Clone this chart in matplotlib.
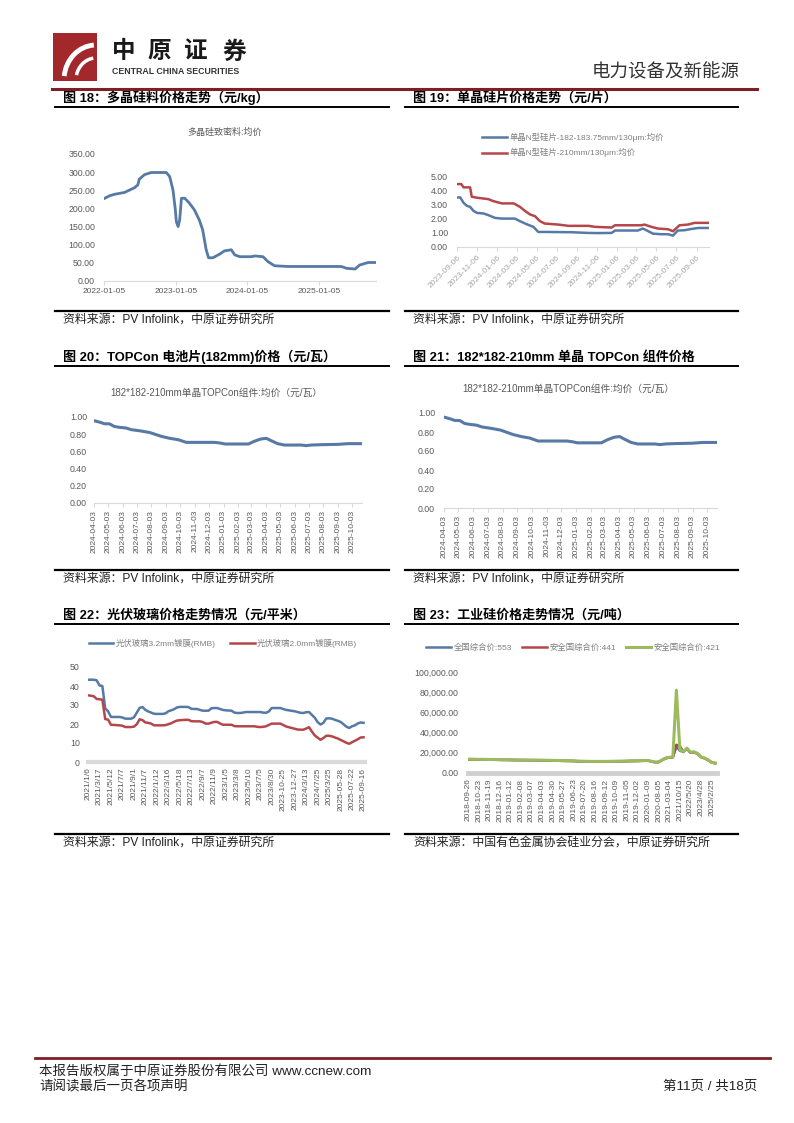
import numpy as np
import pandas as pd
import matplotlib
matplotlib.use("Agg")
import matplotlib.pyplot as plt
from matplotlib.lines import Line2D
from matplotlib.patches import Rectangle, Arc
from matplotlib.ticker import FuncFormatter

plt.rcParams['font.family'] = ['Liberation Sans', 'Noto Sans CJK SC', 'DejaVu Sans']

# ---- data ----
# fig 18: polysilicon dense material avg price (yuan/kg)
poly_dates = ['2022-01-05', '2022-02-03', '2022-02-28', '2022-04-19', '2022-06-09', '2022-06-26',
              '2022-07-04', '2022-07-30', '2022-09-02', '2022-11-18', '2022-12-05', '2022-12-22',
              '2023-01-03', '2023-01-08', '2023-01-17', '2023-01-25', '2023-02-03', '2023-02-20',
              '2023-03-15', '2023-04-10', '2023-05-05', '2023-05-22', '2023-06-09', '2023-06-21',
              '2023-07-13', '2023-08-16', '2023-09-10', '2023-10-15', '2023-11-01', '2023-11-27',
              '2024-01-25', '2024-02-12', '2024-03-24', '2024-04-19', '2024-05-22', '2024-07-29',
              '2025-01-16', '2025-04-26', '2025-05-23', '2025-07-05', '2025-07-29', '2025-08-16',
              '2025-09-11', '2025-10-20']
poly_price = [227, 235, 239, 244, 257, 265, 281, 293, 299, 299,
              288, 251, 196, 164, 150, 168, 228, 228, 215, 196,
              168, 141, 86, 64, 64, 74, 83, 86, 72, 67,
              67, 69, 67, 53, 42, 40, 40, 40, 35, 33,
              44, 47, 51, 51]
poly_ticks = ['2022-01-05', '2023-01-05', '2024-01-05', '2025-01-05']

# fig 19: N-type wafer prices (yuan/pc)
w182_dates = ['2023-09-06', '2023-09-16', '2023-09-26', '2023-10-06', '2023-10-16', '2023-10-26',
              '2023-11-06', '2023-11-26', '2023-12-11', '2023-12-31', '2024-01-21', '2024-03-01',
              '2024-03-16', '2024-04-06', '2024-04-26', '2024-05-11', '2024-05-31', '2024-08-21',
              '2024-10-11', '2024-11-06', '2024-12-21', '2024-12-31', '2025-03-11', '2025-03-26',
              '2025-04-06', '2025-04-26', '2025-05-21', '2025-06-11', '2025-06-26', '2025-07-11',
              '2025-07-31', '2025-08-21', '2025-09-11', '2025-10-14']
w182_price = [3.49, 3.49, 3.11, 2.90, 2.83, 2.55, 2.40, 2.36, 2.24, 2.05,
              2.00, 2.00, 1.82, 1.60, 1.42, 1.06, 1.06, 1.04, 0.99, 0.98,
              0.99, 1.16, 1.16, 1.30, 1.18, 0.94, 0.90, 0.90, 0.80, 1.16,
              1.18, 1.27, 1.34, 1.34]
w210_dates = ['2023-09-06', '2023-09-19', '2023-09-26', '2023-10-16', '2023-10-21', '2023-11-06',
              '2023-12-11', '2023-12-26', '2024-01-21', '2024-02-26', '2024-03-16', '2024-03-31',
              '2024-04-16', '2024-05-01', '2024-05-16', '2024-05-31', '2024-07-11', '2024-08-11',
              '2024-10-11', '2024-10-31', '2024-12-21', '2024-12-31', '2025-03-21', '2025-03-31',
              '2025-04-21', '2025-05-11', '2025-06-11', '2025-06-26', '2025-07-16', '2025-08-11',
              '2025-08-31', '2025-10-14']
w210_price = [4.43, 4.43, 4.20, 4.20, 3.54, 3.47, 3.37, 3.23, 3.07, 3.07,
              2.83, 2.55, 2.29, 2.17, 1.82, 1.65, 1.58, 1.49, 1.49, 1.42,
              1.37, 1.53, 1.53, 1.58, 1.42, 1.30, 1.25, 1.11, 1.53, 1.58,
              1.70, 1.70]
wafer_ticks = ['2023-09-06', '2023-11-06', '2024-01-06', '2024-03-06', '2024-05-06', '2024-07-06',
               '2024-09-06', '2024-11-06', '2025-01-06', '2025-03-06', '2025-05-06', '2025-07-06',
               '2025-09-06']
wafer_labels = ['单晶N型硅片-182-183.75mm/130μm:均价', '单晶N型硅片-210mm/130μm:均价']

# fig 20 / 21: TOPCon module avg price (yuan/W)
topcon_dates = ['2024-04-03', '2024-04-15', '2024-04-25', '2024-05-06', '2024-05-16', '2024-05-27',
                '2024-06-10', '2024-06-21', '2024-07-12', '2024-07-30', '2024-08-10', '2024-08-24',
                '2024-09-11', '2024-09-29', '2024-10-16', '2024-11-03', '2024-12-15', '2024-12-26',
                '2025-01-06', '2025-02-25', '2025-03-09', '2025-03-23', '2025-04-04', '2025-04-14',
                '2025-04-28', '2025-05-12', '2025-06-17', '2025-06-27', '2025-07-08', '2025-07-29',
                '2025-09-03', '2025-09-24', '2025-10-24']
topcon_price = [0.957, 0.940, 0.922, 0.920, 0.890, 0.880, 0.872, 0.853, 0.837, 0.820,
                0.800, 0.775, 0.752, 0.736, 0.705, 0.705, 0.705, 0.698, 0.686, 0.686,
                0.717, 0.744, 0.752, 0.725, 0.690, 0.674, 0.674, 0.667, 0.674, 0.678,
                0.682, 0.690, 0.690]
topcon_ticks = ['2024-04-03', '2024-05-03', '2024-06-03', '2024-07-03', '2024-08-03', '2024-09-03',
                '2024-10-03', '2024-11-03', '2024-12-03', '2025-01-03', '2025-02-03', '2025-03-03',
                '2025-04-03', '2025-05-03', '2025-06-03', '2025-07-03', '2025-08-03', '2025-09-03',
                '2025-10-03']

# fig 22: PV glass price (yuan/m2), weekly categories
glass32 = [43.3, 43.3, 43.3, 43.0, 40.3, 40.0, 28.2, 26.7, 23.7, 23.7,
           23.7, 23.7, 23.4, 22.8, 22.8, 22.8, 23.5, 26.0, 28.5, 28.9,
           27.4, 26.6, 26.0, 25.4, 25.3, 25.3, 25.3, 25.6, 26.7, 27.2,
           27.8, 28.7, 29.0, 29.0, 29.0, 28.9, 28.0, 27.9, 27.9, 27.4,
           27.0, 27.0, 27.0, 28.3, 28.4, 28.4, 27.9, 27.4, 27.2, 27.1,
           27.0, 26.0, 25.8, 25.8, 26.0, 26.3, 26.3, 26.3, 26.3, 26.3,
           26.3, 26.0, 25.9, 26.6, 28.4, 28.4, 28.4, 28.4, 27.9, 27.4,
           27.2, 26.9, 26.7, 26.3, 25.9, 25.8, 26.2, 26.3, 24.8, 23.3,
           21.0, 19.7, 20.6, 22.9, 23.0, 22.8, 22.2, 21.7, 21.1, 19.9,
           18.6, 17.9, 18.8, 19.3, 20.3, 20.8, 20.6]
glass20 = [35.1, 34.9, 34.6, 33.2, 33.0, 32.8, 22.6, 22.3, 19.6, 19.5,
           19.4, 19.3, 19.1, 18.4, 18.4, 18.4, 18.6, 19.9, 22.5, 22.0,
           20.8, 20.6, 20.2, 19.3, 19.3, 19.3, 19.3, 19.4, 19.9, 20.4,
           21.2, 21.8, 22.0, 22.1, 22.2, 22.2, 21.5, 21.4, 21.4, 21.4,
           21.0, 20.2, 20.2, 20.7, 21.1, 21.1, 20.3, 19.6, 19.6, 19.6,
           19.6, 18.9, 18.8, 18.8, 18.8, 18.8, 18.8, 18.8, 18.8, 18.5,
           18.4, 18.5, 18.8, 19.5, 20.2, 20.2, 20.2, 20.2, 19.5, 18.7,
           18.3, 17.9, 17.5, 17.1, 17.0, 17.0, 17.6, 18.3, 16.0, 14.0,
           12.8, 11.7, 12.6, 13.8, 13.8, 13.5, 12.9, 12.4, 11.6, 10.9,
           10.1, 9.6, 10.4, 11.2, 12.0, 12.9, 13.0]
glass_ticks = ['2021/1/6', '2021/3/17', '2021/5/12', '2021/7/7', '2021/9/1', '2021/11/7',
               '2022/1/12', '2022/3/16', '2022/5/18', '2022/7/13', '2022/9/7', '2022/11/9',
               '2023/1/5', '2023/3/8', '2023/5/10', '2023/7/5', '2023/8/30', '2023-10-25',
               '2023-12-27', '2024/3/13', '2024/7/25', '2025/3/25', '2025-05-28', '2025-07-22',
               '2025-09-16']
glass_labels = ['光伏玻璃3.2mm镀膜(RMB)', '光伏玻璃2.0mm镀膜(RMB)']

# fig 23: industrial silicon (yuan/t)
si553 = [13600, 13550, 13500, 13450, 13400, 13350, 13300, 13250, 13200, 13100,
         13050, 13000, 12950, 12900, 12850, 12800, 12800, 12750, 12700, 12700,
         12650, 12600, 12500, 12450, 12400, 12350, 12200, 12100, 12050, 12000,
         11900, 11700, 11600, 11500, 11400, 11400, 11400, 11400, 11450, 11450,
         11500, 11550, 11600, 11650, 11700, 11800, 11900, 11950, 12000, 12100,
         12200, 12300, 11400, 10700, 10900, 12900, 14700, 15400, 15600, 26000,
         22000, 21000, 24300, 20200, 20800, 19100, 15800, 14600, 12800, 10400,
         9800]
si441 = [13500, 13450, 13400, 13350, 13300, 13250, 13200, 13150, 13100, 13000,
         12950, 12900, 12850, 12800, 12750, 12700, 12700, 12650, 12600, 12600,
         12550, 12500, 12400, 12350, 12300, 12250, 12100, 12000, 11950, 11900,
         11800, 11600, 11500, 11400, 11300, 11300, 11300, 11300, 11350, 11350,
         11400, 11450, 11500, 11550, 11600, 11700, 11800, 11850, 11900, 12000,
         12100, 12200, 11300, 10600, 10800, 12800, 14600, 15300, 15500, 28000,
         26500, 20800, 24000, 20000, 20600, 18900, 15700, 14500, 12700, 10300,
         9700]
si421 = [13770, 13700, 13600, 13550, 13500, 13450, 13400, 13350, 13300, 13200,
         13100, 13100, 13000, 13000, 12950, 12900, 12900, 12850, 12800, 12800,
         12790, 12700, 12600, 12550, 12500, 12450, 12300, 12200, 12150, 12130,
         12000, 11800, 11700, 11600, 11500, 11480, 11480, 11500, 11500, 11500,
         11550, 11600, 11700, 11750, 11800, 11900, 12000, 12050, 12130, 12200,
         12300, 12460, 11500, 10820, 11000, 13000, 14900, 15600, 15800, 82000,
         23000, 21300, 24600, 20500, 21000, 19300, 16000, 14800, 13000, 10500,
         9900]
si_ticks = ['2018-09-26', '2018-10-23', '2018-11-19', '2018-12-16', '2019-01-12', '2019-02-08',
            '2019-03-07', '2019-04-03', '2019-04-30', '2019-05-27', '2019-06-23', '2019-07-20',
            '2019-08-16', '2019-09-12', '2019-10-09', '2019-11-05', '2019-12-02', '2020-01-09',
            '2020-08-05', '2021-03-04', '2021/10/15', '2022/5/20', '2023/4/28', '2025/2/25']
si_labels = ['全国综合价:553', '安全国综合价:441', '安全国综合价:421']

BLUE = '#5679A6'
RED = '#B5474B'
GREEN = '#9CBA5E'
TXT = '#595959'
DARKRED = '#7E1F24'

W, H = 794, 1123
fig = plt.figure(figsize=(W / 100, H / 100), dpi=100)


def fx(x):
    return x / W


def fy(y):
    return 1 - y / H


def place(x0, y0, x1, y1):
    return fig.add_axes([fx(x0), fy(y1), (x1 - x0) / W, (y1 - y0) / H])


def hline(x0, x1, y, color, lw):
    fig.add_artist(Line2D([fx(x0), fx(x1)], [fy(y), fy(y)], color=color, lw=lw,
                          transform=fig.transFigure))


def panel(x0, x1, ytop, ybot, title, source):
    fig.text(fx(x0 + 8), fy(ytop - 9), title, fontsize=9.4, fontweight='bold', va='center')
    hline(x0, x1, ytop, 'black', 1.4)
    hline(x0, x1, ybot, 'black', 1.6)
    fig.text(fx(x0 + 8), fy(ybot + 9), source, fontsize=8.6, va='center', color='#222222')


def style(ax, ypad):
    for s in ('top', 'right', 'left'):
        ax.spines[s].set_visible(False)
    ax.spines['bottom'].set_color('#D9D9D9')
    ax.tick_params(axis='y', length=0, pad=ypad, labelsize=6.3, labelcolor=TXT)
    ax.tick_params(axis='x', length=3, color='#D9D9D9', labelsize=6, labelcolor=TXT, pad=2)
    ax.set_facecolor('none')


# ---- header ----
fig.add_artist(Rectangle((fx(53), fy(81)), 44 / W, 48 / H, transform=fig.transFigure,
                         color='#A3282C', lw=0))
fig.add_artist(Arc((fx(96), fy(80)), 64 / W, 70 / H, theta1=95, theta2=175,
                   transform=fig.transFigure, color='white', lw=3.5))
fig.add_artist(Arc((fx(96), fy(80)), 40 / W, 44 / H, theta1=100, theta2=170,
                   transform=fig.transFigure, color='white', lw=2.5))
for ch, x in zip('中原证券', [112, 147, 183, 222]):
    fig.text(fx(x), fy(52), ch, fontsize=17, fontweight='bold', color='#1A1A1A', va='center')
fig.text(fx(112), fy(71), 'CENTRAL CHINA SECURITIES', fontsize=6.3, fontweight='bold',
         color='#333333', va='center')
fig.text(fx(740), fy(73), '电力设备及新能源', fontsize=13.3, color='#333333', ha='right', va='center')
hline(52, 757, 89, DARKRED, 2.2)

# ---- panel frames ----
src = '资料来源：PV Infolink，中原证券研究所'
panel(55, 389, 107, 311, '图 18：多晶硅料价格走势（元/kg）', src)
panel(405, 738, 107, 311, '图 19：单晶硅片价格走势（元/片）', src)
panel(55, 389, 366, 570, '图 20：TOPCon 电池片(182mm)价格（元/瓦）', src)
panel(405, 738, 366, 570, '图 21：182*182-210mm 单晶 TOPCon 组件价格', src)
panel(55, 389, 624, 834, '图 22：光伏玻璃价格走势情况（元/平米）', src)
panel(405, 738, 624, 834, '图 23：工业硅价格走势情况（元/吨）',
      '资料来源：中国有色金属协会硅业分会，中原证券研究所')

fmt2 = FuncFormatter(lambda v, p: f'{v:.2f}')

# ---- fig 18 ----
ax = place(104, 154, 376, 281)
style(ax, 6.5)
ax.plot(pd.to_datetime(poly_dates), poly_price, color=BLUE, lw=2)
ax.set_ylim(0, 350)
ax.set_yticks(np.arange(0, 351, 50))
ax.yaxis.set_major_formatter(fmt2)
ax.set_xlim(pd.Timestamp('2022-01-05'), pd.Timestamp('2025-10-20'))
ax.set_xticks(pd.to_datetime(poly_ticks))
ax.set_xticklabels(poly_ticks)
fig.text(fx(225), fy(132), '多晶硅致密料:均价', fontsize=6.5, color=TXT, ha='center', va='center')

# ---- fig 19 ----
ax = place(457, 176, 709, 247)
style(ax, 6.5)
ax.plot(pd.to_datetime(w182_dates), w182_price, color=BLUE, lw=1.8, label=wafer_labels[0])
ax.plot(pd.to_datetime(w210_dates), w210_price, color=RED, lw=1.8, label=wafer_labels[1])
ax.set_ylim(0, 5)
ax.set_yticks(np.arange(0, 5.01, 1))
ax.yaxis.set_major_formatter(fmt2)
ax.set_xlim(pd.Timestamp('2023-09-06'), pd.Timestamp('2025-10-14'))
ax.set_xticks(pd.to_datetime(wafer_ticks))
ax.set_xticklabels(wafer_ticks, rotation=45, ha='right', rotation_mode='anchor',
                   color='#A6A6A6')
ax.legend(loc='center', bbox_to_anchor=(fx(573), fy(145)), bbox_transform=fig.transFigure,
          frameon=False, fontsize=6, handlelength=3.0, handletextpad=0.3, labelspacing=0.8,
          labelcolor='#7F7F7F')

# ---- fig 20 ----
ax = place(94, 417, 362, 503)
style(ax, 5)
ax.plot(pd.to_datetime(topcon_dates), topcon_price, color=BLUE, lw=2.2)
ax.set_ylim(0, 1)
ax.set_yticks(np.arange(0, 1.01, 0.2))
ax.yaxis.set_major_formatter(fmt2)
ax.set_xlim(pd.Timestamp('2024-04-03'), pd.Timestamp('2025-10-24'))
ax.set_xticks(pd.to_datetime(topcon_ticks))
ax.set_xticklabels(topcon_ticks, rotation=90)
fig.text(fx(216), fy(393), '182*182-210mm单晶TOPCon组件:均价（元/瓦）', fontsize=7,
         color=TXT, ha='center', va='center')

# ---- fig 21 ----
ax = place(444, 413, 717, 508)
style(ax, 6.5)
ax.plot(pd.to_datetime(topcon_dates), topcon_price, color=BLUE, lw=2.2)
ax.set_ylim(0, 1)
ax.set_yticks(np.arange(0, 1.01, 0.2))
ax.yaxis.set_major_formatter(fmt2)
ax.set_xlim(pd.Timestamp('2024-04-03'), pd.Timestamp('2025-10-24'))
ax.set_xticks(pd.to_datetime(topcon_ticks))
ax.set_xticklabels(topcon_ticks, rotation=90)
fig.text(fx(568), fy(389), '182*182-210mm单晶TOPCon组件:均价（元/瓦）', fontsize=7,
         color=TXT, ha='center', va='center')

# ---- fig 22 ----
ax = place(88, 667, 365, 762)
style(ax, 6)
xg = np.arange(len(glass32))
ax.plot(xg, glass32, color=BLUE, lw=1.8, label=glass_labels[0])
ax.plot(xg, glass20, color=RED, lw=1.8, label=glass_labels[1])
ax.set_ylim(0, 50)
ax.set_yticks(np.arange(0, 51, 10))
ax.set_xlim(0, 96.5)
ax.set_xticks(xg[::4])
ax.set_xticklabels(glass_ticks, rotation=90)
ax.spines['bottom'].set_linewidth(3)
ax.tick_params(axis='x', length=0, pad=4)
ax.legend(loc='center', bbox_to_anchor=(fx(223), fy(643)), bbox_transform=fig.transFigure,
          ncol=2, frameon=False, fontsize=6, handlelength=2.9, handletextpad=0.3,
          columnspacing=1.8, labelcolor='#7F7F7F')

# ---- fig 23 ----
ax = place(468, 672, 717, 773)
style(ax, 7)
xs = np.arange(len(si421))
ax.plot(xs, si553, color=BLUE, lw=1.8, label=si_labels[0])
ax.plot(xs, si441, color=RED, lw=1.8, label=si_labels[1])
ax.plot(xs, si421, color=GREEN, lw=2.2, label=si_labels[2])
ax.set_ylim(0, 100000)
ax.set_yticks(np.arange(0, 100001, 20000))
ax.yaxis.set_major_formatter(FuncFormatter(lambda v, p: f'{v:,.2f}'))
ax.set_xlim(0, 70.5)
ax.set_xticks(xs[::3])
ax.set_xticklabels(si_ticks, rotation=90)
ax.spines['bottom'].set_linewidth(3.5)
ax.spines['bottom'].set_color('#D0D0D0')
ax.tick_params(axis='x', length=0, pad=4)
ax.legend(loc='center', bbox_to_anchor=(fx(573), fy(648)), bbox_transform=fig.transFigure,
          ncol=3, frameon=False, fontsize=6, handlelength=3.0, handletextpad=0.3,
          columnspacing=1.2, labelcolor='#7F7F7F')

# ---- footer ----
hline(35, 770, 1058, DARKRED, 2)
fig.text(fx(39), fy(1071), '本报告版权属于中原证券股份有限公司 www.ccnew.com', fontsize=9.7,
         va='center', color='#222222')
fig.text(fx(39), fy(1087), '请阅读最后一页各项声明', fontsize=9.7, va='center', color='#222222')
fig.text(fx(757), fy(1086), '第11页 / 共18页', fontsize=9.7, ha='right', va='center',
         color='#222222')

fig.savefig('out.png', dpi=100)
